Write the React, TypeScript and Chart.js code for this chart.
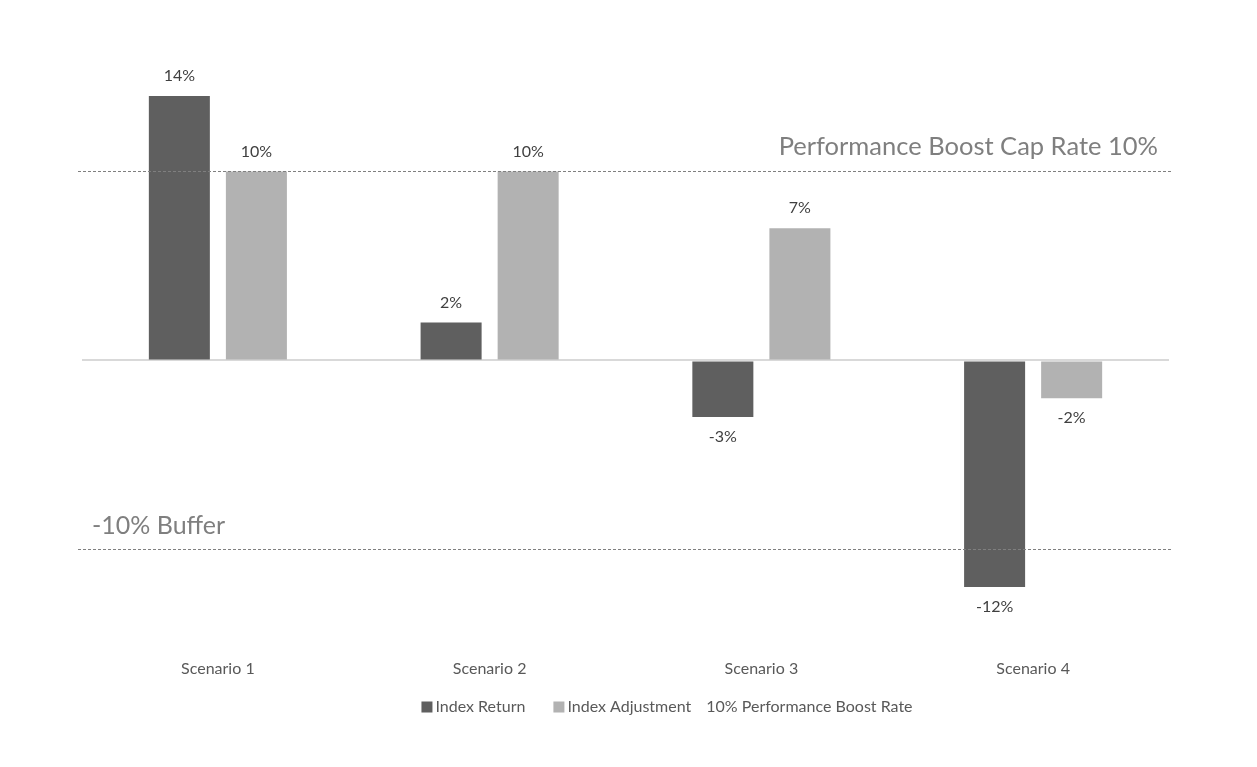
import React, { useEffect, useRef } from "react";
import { Chart, registerables } from "chart.js";

Chart.register(...registerables);

const categories = ["Scenario 1", "Scenario 2", "Scenario 3", "Scenario 4"];
const indexReturn = [14, 2, -3, -12];
const indexAdjustment = [10, 10, 7, -2];
const capRate = 10;
const bufferRate = -10;
const capLabel = "Performance Boost Cap Rate 10%";
const bufferLabel = "-10% Buffer";
const legendLabels = ["Index Return", "Index Adjustment", "10% Performance Boost Rate"];
const seriesColors = ["#5f5f5f", "#b2b2b2"];

const FONT = "Lato, 'Open Sans', sans-serif";

const overlayPlugin = {
  id: "overlay",
  afterDatasetsDraw(chart: any) {
    const { ctx, chartArea, scales } = chart;
    const y = scales.y;
    ctx.save();
    // data labels
    ctx.font = `16px ${FONT}`;
    ctx.fillStyle = "#404040";
    ctx.textAlign = "center";
    ctx.textBaseline = "middle";
    chart.data.datasets.forEach((ds: any, di: number) => {
      const meta = chart.getDatasetMeta(di);
      meta.data.forEach((bar: any, i: number) => {
        const v = ds.data[i];
        const yy = v >= 0 ? bar.y - 20 : bar.y + 20;
        ctx.fillText(`${v}%`, bar.x, yy);
      });
    });
    // dashed reference lines
    ctx.strokeStyle = "#7f7f7f";
    ctx.lineWidth = 1;
    ctx.setLineDash([3, 2]);
    [capRate, bufferRate].forEach((v) => {
      const py = Math.round(y.getPixelForValue(v)) + 0.5;
      ctx.beginPath();
      ctx.moveTo(chartArea.left - 4, py);
      ctx.lineTo(chartArea.right + 4, py);
      ctx.stroke();
    });
    ctx.setLineDash([]);
    // annotations
    ctx.fillStyle = "#7f7f7f";
    ctx.textBaseline = "alphabetic";
    ctx.font = `25.5px ${FONT}`;
    ctx.textAlign = "right";
    ctx.fillText(capLabel, chartArea.right - 11, y.getPixelForValue(capRate) - 16);
    ctx.font = `25px ${FONT}`;
    ctx.textAlign = "left";
    ctx.fillText(bufferLabel, chartArea.left + 10, y.getPixelForValue(bufferRate) - 15);
    // legend
    ctx.font = `16px ${FONT}`;
    ctx.textBaseline = "middle";
    const box = 11;
    const gapBox = 3;
    const gaps = [28, 15];
    const widths = legendLabels.map((t, i) => (i < 2 ? box + gapBox : 0) + ctx.measureText(t).width);
    const total = widths.reduce((a, b) => a + b, 0) + gaps[0] + gaps[1];
    let x = 667 - total / 2;
    const ly = 707;
    legendLabels.forEach((t, i) => {
      if (i < 2) {
        ctx.fillStyle = seriesColors[i];
        ctx.fillRect(x, ly - box / 2, box, box);
        x += box + gapBox;
      }
      ctx.fillStyle = "#595959";
      ctx.textAlign = "left";
      ctx.fillText(t, x, ly);
      x += ctx.measureText(t).width + (i < 2 ? gaps[i] : 0);
    });
    ctx.restore();
  },
};

export default function App() {
  const ref = useRef<HTMLCanvasElement | null>(null);
  useEffect(() => {
    if (!ref.current) return;
    const chart = new Chart(ref.current, {
      type: "bar",
      data: {
        labels: categories,
        datasets: [
          { label: legendLabels[0], data: indexReturn, backgroundColor: seriesColors[0] },
          { label: legendLabels[1], data: indexAdjustment, backgroundColor: seriesColors[1] },
        ],
      },
      options: {
        animation: false,
        responsive: false,
        maintainAspectRatio: false,
        categoryPercentage: 0.567,
        barPercentage: 0.792,
        layout: { padding: { left: 82, right: 88, top: 77, bottom: 74 } },
        plugins: { legend: { display: false }, tooltip: { enabled: false } },
        scales: {
          x: {
            grid: { display: false, drawTicks: false },
            border: { display: false },
            ticks: { color: "#595959", font: { family: FONT, size: 16 }, padding: 15 },
          },
          y: {
            min: -15,
            max: 15,
            ticks: { display: false, stepSize: 5 },
            border: { display: false },
            grid: {
              drawTicks: false,
              lineWidth: 2,
              color: (c: any) => (c.tick && c.tick.value === 0 ? "#d9d9d9" : "rgba(0,0,0,0)"),
            },
          },
        },
      },
      plugins: [overlayPlugin],
    });
    return () => chart.destroy();
  }, []);
  return (
    <div style={{ position: "fixed", left: 0, top: 0, width: 1257, height: 767, background: "#fff" }}>
      <canvas ref={ref} width={1257} height={767} style={{ display: "block" }} />
    </div>
  );
}
